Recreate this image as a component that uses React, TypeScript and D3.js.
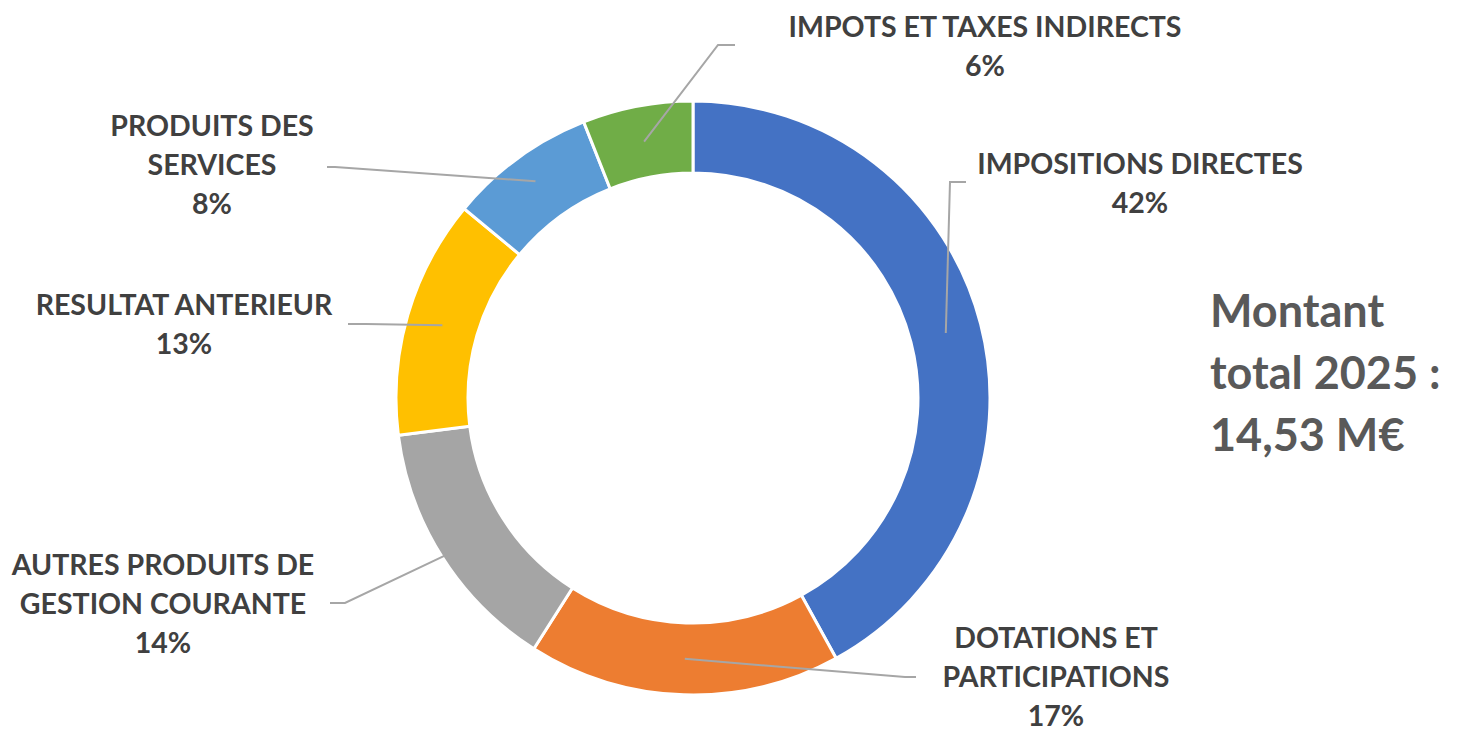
import React from 'react';
import * as d3 from 'd3';

// Répartition des recettes 2025
const categories = [
  'IMPOSITIONS DIRECTES',
  'DOTATIONS ET PARTICIPATIONS',
  'AUTRES PRODUITS DE GESTION COURANTE',
  'RESULTAT ANTERIEUR',
  'PRODUITS DES SERVICES',
  'IMPOTS ET TAXES INDIRECTS',
];
const shares = [42, 17, 14, 13, 8, 6];
const colors = ['#4472C4', '#ED7D31', '#A5A5A5', '#FFC000', '#5B9BD5', '#70AD47'];
const labelLines = [
  ['IMPOSITIONS DIRECTES'],
  ['DOTATIONS ET', 'PARTICIPATIONS'],
  ['AUTRES PRODUITS DE', 'GESTION COURANTE'],
  ['RESULTAT ANTERIEUR'],
  ['PRODUITS DES', 'SERVICES'],
  ['IMPOTS ET TAXES INDIRECTS'],
];
const totalLines = ['Montant', 'total 2025 :', '14,53 M€'];

const width = 1458;
const height = 732;
const cx = 693;
const cy = 398;
const outerR = 297;
const innerR = 225;
const lineH = 39;

// label placement: centre x, first baseline, leader elbow + end, leader start radius
const labelLayout = [
  { x: 1140, y: 174, elbow: [950, 182], end: [966, 182], r: 261 },
  { x: 1056, y: 648, elbow: [905, 677], end: [916, 677], r: 261 },
  { x: 163, y: 575, elbow: [345, 603], end: [330, 603], r: 294 },
  { x: 184, y: 315, elbow: [366, 324], end: [348, 324], r: 261 },
  { x: 212, y: 136, elbow: [335, 167], end: [327, 167], r: 268 },
  { x: 985, y: 37, elbow: [718, 45], end: [735, 45], r: 261 },
];

const App = () => {
  const pie = d3.pie<number>().sort(null).value(d => d);
  const arcs = pie(shares);
  const arc = d3.arc<d3.PieArcDatum<number>>().innerRadius(innerR).outerRadius(outerR);
  const line = d3.line();

  return (
    <svg
      width={width}
      height={height}
      style={{ position: 'absolute', left: 0, top: 0, background: '#fff' }}
      fontFamily="Lato, 'Open Sans', sans-serif"
      fontWeight="bold"
    >
      <g transform={`translate(${cx},${cy})`}>
        {arcs.map((a, i) => (
          <path key={categories[i]} d={arc(a) || ''} fill={colors[i]} stroke="#fff" strokeWidth={3} />
        ))}
      </g>

      {/* leader lines */}
      {arcs.map((a, i) => {
        const lay = labelLayout[i];
        const mid = (a.startAngle + a.endAngle) / 2;
        const start: [number, number] = [cx + lay.r * Math.sin(mid), cy - lay.r * Math.cos(mid)];
        return (
          <path
            key={'l' + i}
            d={line([start, lay.elbow as [number, number], lay.end as [number, number]]) || ''}
            fill="none"
            stroke="#A6A6A6"
            strokeWidth={2}
          />
        );
      })}

      {/* data labels */}
      {arcs.map((a, i) => {
        const lay = labelLayout[i];
        const rows = [...labelLines[i], `${shares[i]}%`];
        return (
          <text key={'t' + i} textAnchor="middle" fill="#404040" fontSize={28.5}>
            {rows.map((r, j) => (
              <tspan key={j} x={lay.x} y={lay.y + j * lineH}>
                {r}
              </tspan>
            ))}
          </text>
        );
      })}

      <text fill="#595959" fontSize={45}>
        {totalLines.map((t, j) => (
          <tspan key={j} x={1210} y={327 + j * 62}>
            {t}
          </tspan>
        ))}
      </text>
    </svg>
  );
};

export default App;
